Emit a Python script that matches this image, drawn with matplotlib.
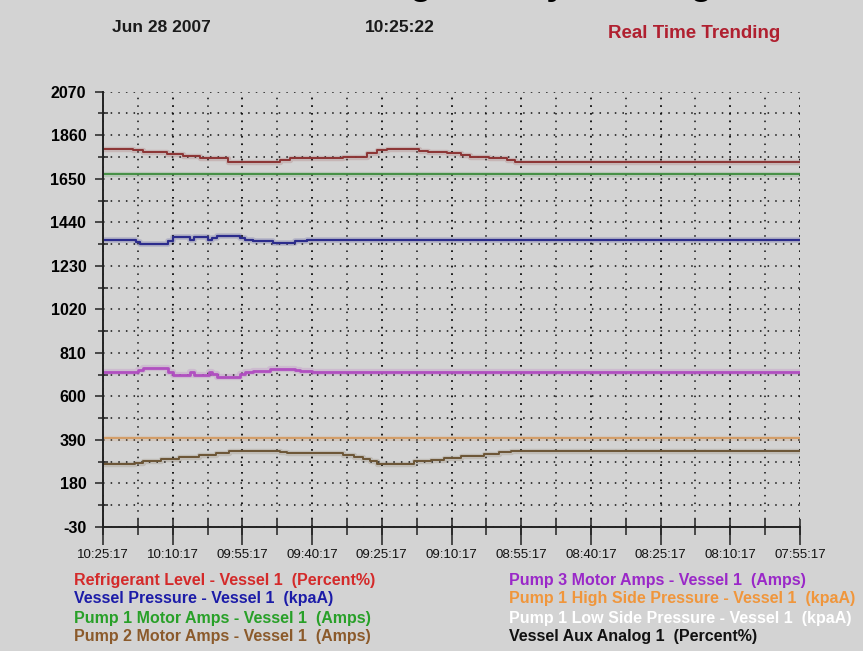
import numpy as np
import matplotlib.pyplot as plt
from matplotlib.ticker import MultipleLocator, FixedLocator

# x = minutes back from 10:25:17, series drawn as step traces
time_labels = ['10:25:17', '10:10:17', '09:55:17', '09:40:17', '09:25:17', '09:10:17',
               '08:55:17', '08:40:17', '08:25:17', '08:10:17', '07:55:17']

refrig_t = [0, 6.5, 8.6, 13.8, 17.2, 20.9, 22.6, 26.9, 38.1, 40.2, 51.6, 56.8, 59.0, 61.1,
            68.0, 70.0, 74.0, 77.0, 79.0, 83.0, 87.0, 88.6, 150]
refrig_v = [1793, 1788, 1780, 1769, 1759, 1751, 1748, 1732, 1740, 1748, 1756, 1772, 1788, 1793,
            1785, 1780, 1772, 1764, 1756, 1751, 1740, 1732, 1732]

press_t = [0, 7.0, 8.0, 14.0, 15.0, 18.7, 19.6, 22.6, 23.5, 24.5, 29.5, 30.6, 32.3, 36.6,
           41.3, 43.9, 150]
press_v = [1356, 1345, 1334, 1350, 1369, 1356, 1369, 1356, 1365, 1372, 1365, 1356, 1348, 1340,
           1348, 1356, 1356]

pump1_t = [0, 150]
pump1_v = [1671, 1671]

pump3_t = [0, 7.5, 8.6, 14.0, 15.1, 18.7, 19.6, 22.8, 23.5, 24.5, 29.5, 30.6, 32.3, 36.0,
           38.0, 41.3, 42.5, 45.0, 150]
pump3_v = [716, 727, 737, 720, 704, 720, 704, 720, 708, 695, 708, 716, 724, 731,
           734, 727, 721, 716, 716]

high_t = [0, 150]
high_v = [399, 399]

pump2_t = [0, 6.9, 8.6, 12.5, 16.4, 20.7, 24.3, 27.2, 38.0, 39.5, 51.7, 54.0, 56.0, 57.5,
           59.0, 67.0, 70.5, 73.4, 77.0, 82.0, 85.2, 87.7, 150]
pump2_v = [276, 281, 289, 297, 309, 318, 328, 338, 331, 325, 318, 310, 298, 286,
           276, 286, 293, 302, 313, 322, 330, 338, 338]

legend_left = ['Refrigerant Level - Vessel 1  (Percent%)', 'Vessel Pressure - Vessel 1  (kpaA)',
               'Pump 1 Motor Amps - Vessel 1  (Amps)', 'Pump 2 Motor Amps - Vessel 1  (Amps)']
legend_left_colors = ['#d42a2a', '#1c1ca8', '#28a028', '#8b5a2b']
legend_right = ['Pump 3 Motor Amps - Vessel 1  (Amps)', 'Pump 1 High Side Pressure - Vessel 1  (kpaA)',
                'Pump 1 Low Side Pressure - Vessel 1  (kpaA)', 'Vessel Aux Analog 1  (Percent%)']
legend_right_colors = ['#9a28c8', '#f0963c', '#ffffff', '#111111']

bg = '#d3d3d3'
plt.rcParams['font.family'] = ['Liberation Sans', 'DejaVu Sans']
plt.rcParams['axes.unicode_minus'] = False

fig = plt.figure(figsize=(8.63, 6.51), dpi=100, facecolor=bg)
ax = fig.add_axes([103 / 863, 1 - 527 / 651, 697 / 863, (527 - 91.7) / 651])
ax.set_facecolor(bg)

series = [
    (refrig_t, refrig_v, '#8c3434', 1.4),
    (pump1_t, pump1_v, '#3c8c3c', 1.3),
    (press_t, press_v, '#2c2c8c', 1.6),
    (pump3_t, pump3_v, '#b050c0', 2.0),
    (high_t, high_v, '#d49a60', 1.3),
    (pump2_t, pump2_v, '#6b5535', 1.4),
]
for t, v, c, lw in series:
    ax.plot(t, v, drawstyle='steps-post', color=c, lw=lw + 2.5, alpha=0.18, zorder=3)
    ax.plot(t, v, drawstyle='steps-post', color=c, lw=lw, zorder=4)

ax.set_xlim(0, 150)
ax.set_ylim(-30, 2070)

ax.xaxis.set_major_locator(FixedLocator(np.arange(0, 151, 15)))
ax.xaxis.set_minor_locator(FixedLocator(np.arange(0, 151, 7.5)))
ax.xaxis.remove_overlapping_locs = False
ax.set_xticklabels(time_labels)
ax.yaxis.set_major_locator(MultipleLocator(210, offset=-30))
ax.yaxis.set_minor_locator(MultipleLocator(105, offset=-30))

ax.tick_params(axis='x', which='major', direction='out', length=13, width=1.1,
               color='#222222', labelsize=9.5, pad=3, labelcolor='#111111')
ax.tick_params(axis='x', which='minor', direction='inout', length=11, width=1.1, color='#222222')
ax.tick_params(axis='y', which='major', direction='out', length=6, width=1.1,
               color='#222222', labelsize=11.5, pad=6)
ax.tick_params(axis='y', which='minor', direction='inout', length=7, width=1.1, color='#222222')
for lab in ax.get_yticklabels():
    lab.set_fontweight('bold')

ax.grid(True, which='both', color='#111111', linestyle=(0, (1, 4)), linewidth=1.1)
ax.set_axisbelow(True)
for s in ['top', 'right']:
    ax.spines[s].set_visible(False)
for s in ['left', 'bottom']:
    ax.spines[s].set_linewidth(1.4)
    ax.spines[s].set_color('#222222')
    ax.spines[s].set_zorder(5)

# header (title is cut off by the top edge in the original)
fig.text(157 / 863, 1 + 5.5 / 651, 'Chiller Trending History Viewing', fontsize=26,
         fontweight='bold', ha='left', va='baseline', color='black')
fig.text(161 / 863, 1 - 27 / 651, 'Jun 28 2007', fontsize=12.5, fontweight='bold',
         ha='center', va='center', color='#1a1a1a')
fig.text(400 / 863, 1 - 27 / 651, '10:25:22', fontsize=12.5, fontweight='bold',
         ha='center', va='center', color='#1a1a1a')
fig.text(694 / 863, 1 - 33 / 651, 'Real Time Trending', fontsize=13.5, fontweight='bold',
         ha='center', va='center', color='#b02030')

# legend text block
rows_y = [580, 599, 618, 637]
for txt, c, y in zip(legend_left, legend_left_colors, rows_y):
    fig.text(74 / 863, 1 - y / 651, txt, fontsize=11.5, fontweight='bold',
             ha='left', va='center', color=c)
for txt, c, y in zip(legend_right, legend_right_colors, rows_y):
    fig.text(509 / 863, 1 - y / 651, txt, fontsize=11.5, fontweight='bold',
             ha='left', va='center', color=c)

fig.savefig('out.png', dpi=100, facecolor=bg)
